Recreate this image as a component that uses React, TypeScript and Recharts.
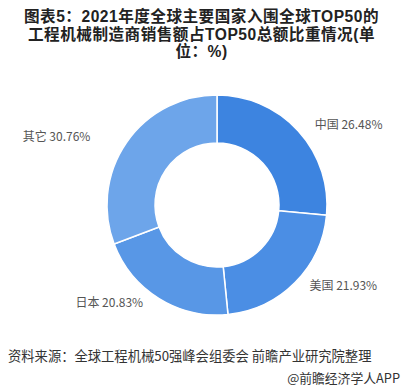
import { PieChart, Pie, Cell } from 'recharts';

const countries = ['中国', '美国', '日本', '其它'];
const shares = [26.48, 21.93, 20.83, 30.76];
const colors = ['#3d84e0', '#4b8ee4', '#5897e6', '#6da5ea'];
const titleLines = [
  '图表5：2021年度全球主要国家入围全球TOP50的',
  '工程机械制造商销售额占TOP50总额比重情况(单',
  '位：%)',
];

const data = countries.map((name, i) => ({ name, value: shares[i] }));

const RAD = Math.PI / 180;

function renderLabel(props: any) {
  const { cx, cy, midAngle, name, value } = props;
  const cos = Math.cos(-midAngle * RAD);
  const sin = Math.sin(-midAngle * RAD);
  const x = cx + 178 * cos + (cos < 0 ? -14 : 0);
  const y = cy + 117 * sin - 3;
  return (
    <text
      x={x}
      y={y}
      textAnchor="middle"
      dominantBaseline="central"
      fill="#555"
      fontSize={12}
      fontFamily="'Noto Sans CJK SC', sans-serif"
    >
      {`${name}  ${value.toFixed(2)}%`}
    </text>
  );
}

export default function App() {
  return (
    <div
      style={{
        position: 'absolute',
        left: 0,
        top: 0,
        width: 403,
        height: 390,
        background: '#fff',
        fontFamily: "'Noto Sans CJK SC', sans-serif",
        overflow: 'hidden',
      }}
    >
      {titleLines.map((t, i) => (
        <div
          key={i}
          style={{
            position: 'absolute',
            left: 0,
            top: 8 + i * 17.6,
            width: 403,
            textAlign: 'center',
            fontFamily: "'Liberation Sans', 'Noto Sans CJK SC', sans-serif",
            fontWeight: 'bold',
            fontSize: 15.6,
            lineHeight: '17px',
            color: '#222',
            letterSpacing: 0.5,
            whiteSpace: 'nowrap',
          }}
        >
          {t}
        </div>
      ))}
      <PieChart width={403} height={390} style={{ position: 'absolute', left: 0, top: 0 }}>
        <Pie
          data={data}
          dataKey="value"
          nameKey="name"
          cx={212}
          cy={200}
          innerRadius={62}
          outerRadius={110}
          startAngle={90}
          endAngle={-270}
          stroke="#fff"
          strokeWidth={1.5}
          label={renderLabel}
          labelLine={false}
          isAnimationActive={false}
        >
          {data.map((d, i) => (
            <Cell key={d.name} fill={colors[i]} />
          ))}
        </Pie>
      </PieChart>
      <div
        style={{
          position: 'absolute',
          left: 8,
          top: 346,
          fontSize: 13.3,
          color: '#333',
          whiteSpace: 'nowrap',
        }}
      >
        资料来源：全球工程机械50强峰会组委会 前瞻产业研究院整理
      </div>
      <div
        style={{
          position: 'absolute',
          right: 3,
          top: 368,
          fontSize: 12.8,
          color: '#333',
          whiteSpace: 'nowrap',
        }}
      >
        @前瞻经济学人APP
      </div>
    </div>
  );
}
